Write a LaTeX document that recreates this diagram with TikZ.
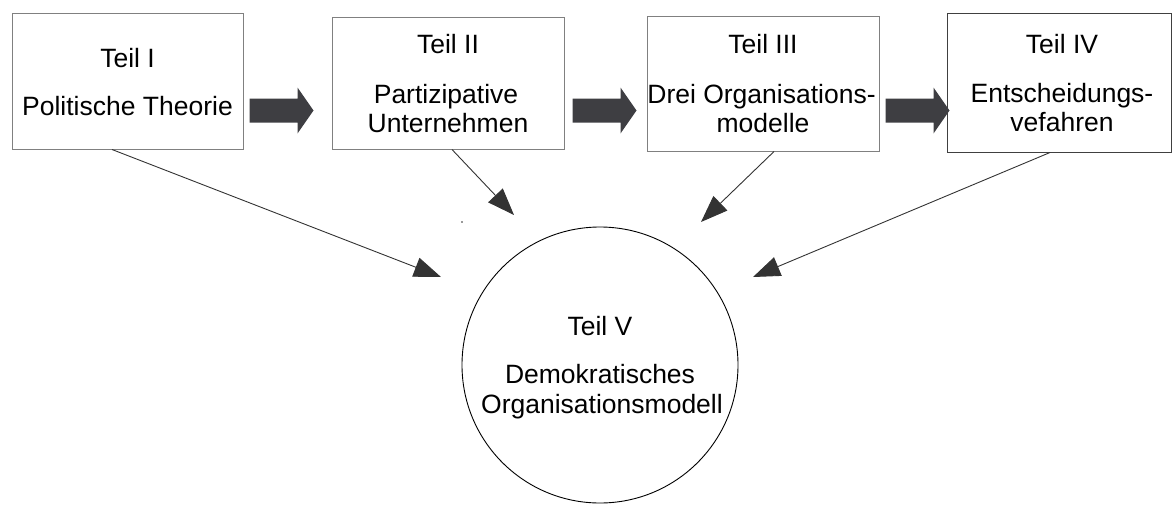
\documentclass[tikz,border=0pt]{standalone}
\usepackage{fontspec}
\setmainfont{Liberation Sans}
\usetikzlibrary{arrows.meta,calc}

\definecolor{boxline}{RGB}{128,128,128}
\definecolor{boxlinedark}{RGB}{64,64,64}
\definecolor{fatgray}{RGB}{62,62,66}
\definecolor{thinline}{RGB}{51,51,51}

\tikzset{
  partbox/.style={draw=boxline, line width=1pt, rectangle, inner sep=0pt},
  txt/.style={anchor=base, inner sep=0pt, font=\fontsize{26.5}{30}\selectfont},
  fatarrow/.style={fill=fatgray},
  link/.style={draw=thinline, line width=0.9pt,
    -{Triangle[length=27pt,width=20pt]}},
}

\begin{document}
\begin{tikzpicture}[x=1pt,y=-1pt]
\useasboundingbox (0,0) rectangle (1173,504);

% the four parts as boxes
\node[partbox, minimum width=231pt, minimum height=136pt] (b1) at (127.5,81) {};
\node[partbox, minimum width=232pt, minimum height=132pt] (b2) at (448,83) {};
\node[partbox, minimum width=232pt, minimum height=135pt] (b3) at (763,83.5) {};
\node[partbox, draw=boxlinedark, minimum width=224pt, minimum height=139pt] (b4) at (1059,82.5) {};

% the concluding part as a circle
\node[draw=black, line width=0.9pt, circle, minimum size=276pt, inner sep=0pt] (c5) at (600,365) {};

% box labels
\node[txt] (t1a) at (127.5,67) {Teil I};
\node[txt] (t1b) at (127.5,115) {Politische Theorie};

\node[txt] (t2a) at (448,53) {Teil II};
\node[txt] (t2b) at (446,103) {Partizipative};
\node[txt] (t2c) at (448,132) {Unternehmen};

\node[txt] (t3a) at (763,53) {Teil III};
\node[txt] (t3b) at (761.5,103) {Drei Organisations-};
\node[txt] (t3c) at (763,132) {modelle};

\node[txt] (t4a) at (1062,53) {Teil IV};
\node[txt] (t4b) at (1062,102) {Entscheidungs-};
\node[txt] (t4c) at (1062,131) {vefahren};

\node[txt] (t5a) at (600,335) {Teil V};
\node[txt] (t5b) at (600,383) {Demokratisches};
\node[txt] (t5c) at (602,413) {Organisationsmodell};

% thick block arrows between consecutive parts
\fill[fatarrow] ($(b1.south east)+(6,-39)$) ++(0,-12) -- ++(48,0) -- ++(0,-11)
  -- ++(16,23) -- ++(-16,23) -- ++(0,-11) -- ++(-48,0) -- cycle;
\fill[fatarrow] ($(b2.south east)+(8,-39)$) ++(0,-12) -- ++(48,0) -- ++(0,-11)
  -- ++(16,23) -- ++(-16,23) -- ++(0,-11) -- ++(-48,0) -- cycle;
\fill[fatarrow] ($(b3.south east)+(6,-41)$) ++(0,-12) -- ++(48,0) -- ++(0,-11)
  -- ++(16,23) -- ++(-16,23) -- ++(0,-11) -- ++(-48,0) -- cycle;

% arrow tips in front of the circle
\coordinate (e1) at (441,277);
\coordinate (e2) at (514,215);
\coordinate (e3) at (701,222);
\coordinate (e4) at (753,277);

% thin arrows from each part into part V
\draw[link] ($(b1.south)+(-15.5,0)$) -- (e1);
\draw[link] ($(b2.south)+(4,0)$) -- (e2);
\draw[link] ($(b3.south)+(11,0)$) -- (e3);
\draw[link] ($(b4.south)+(-9,0)$) -- (e4);

% small stray dot
\fill[thinline] (462,222) circle (0.8);
\end{tikzpicture}
\end{document}
